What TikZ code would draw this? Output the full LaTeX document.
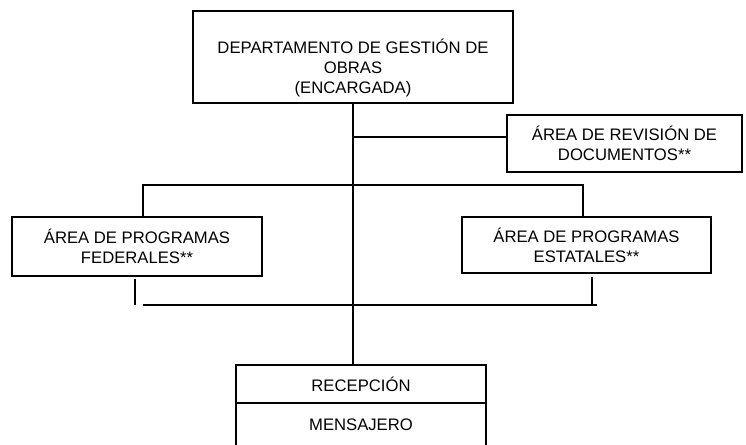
\documentclass[tikz,border=0pt]{standalone}
\usepackage{fontspec}
\setmainfont{Liberation Sans}
\begin{document}
\begin{tikzpicture}[x=0.75pt,y=-0.75pt, % pixel units, y pointing down
  caja/.style={draw=black, line width=0.8pt, inner sep=0pt, align=center, font=\fontsize{12.5}{15}\selectfont},
  texto/.style={inner sep=0pt, align=center, font=\fontsize{12.5}{15}\selectfont},
  linea/.style={draw=black, line width=0.8pt}]
\useasboundingbox (0,0) rectangle (746,444);
\clip (0,0) rectangle (746,444); % bottom box runs off the page

\node[caja, minimum width=240pt, minimum height=69pt] (depto) at (353,57) {};
\node[texto] (deptotxt) at (353,68) {DEPARTAMENTO DE GESTIÓN DE\\OBRAS\\(ENCARGADA)}; % text sits low
\node[caja, minimum width=176.25pt, minimum height=42.75pt] (revision) at (624.5,143.5) {ÁREA DE REVISIÓN DE\\DOCUMENTOS**};
\node[caja, minimum width=187.5pt, minimum height=44.25pt] (federales) at (137,246.5) {ÁREA DE PROGRAMAS\\FEDERALES**};
\node[caja, minimum width=186.75pt, minimum height=42pt] (estatales) at (586.5,245) {ÁREA DE PROGRAMAS\\ESTATALES**};
\node[caja, minimum width=187.5pt, minimum height=28.5pt] (recepcion) at (361,384) {RECEPCIÓN};
\node[caja, minimum width=187.5pt, minimum height=33pt] (mensajero) at (361,425) {MENSAJERO};

\coordinate (revjoin) at (353,137);
\coordinate (barizq) at (143,185);
\coordinate (barder) at (583,185);
\coordinate (fedbaja) at (135,279);
\coordinate (fedpie) at (135,305);
\coordinate (pieizq) at (143,305);
\coordinate (pieder) at (597,305);
\coordinate (estbaja) at (592,277);
\coordinate (estpie) at (592,305);

\draw[linea] (depto.south) -- (depto.south |- recepcion.north); % trunk
\draw[linea] (revjoin) -- (revjoin -| revision.west);
\draw[linea] (barizq |- federales.north) -- (barizq) -- (barder) -- (barder |- estatales.north);
\draw[linea] (fedbaja) -- (fedpie); %loose stub
\draw[linea] (pieizq) -- (pieder);
\draw[linea] (estbaja) -- (estpie);
\end{tikzpicture}
\end{document}
